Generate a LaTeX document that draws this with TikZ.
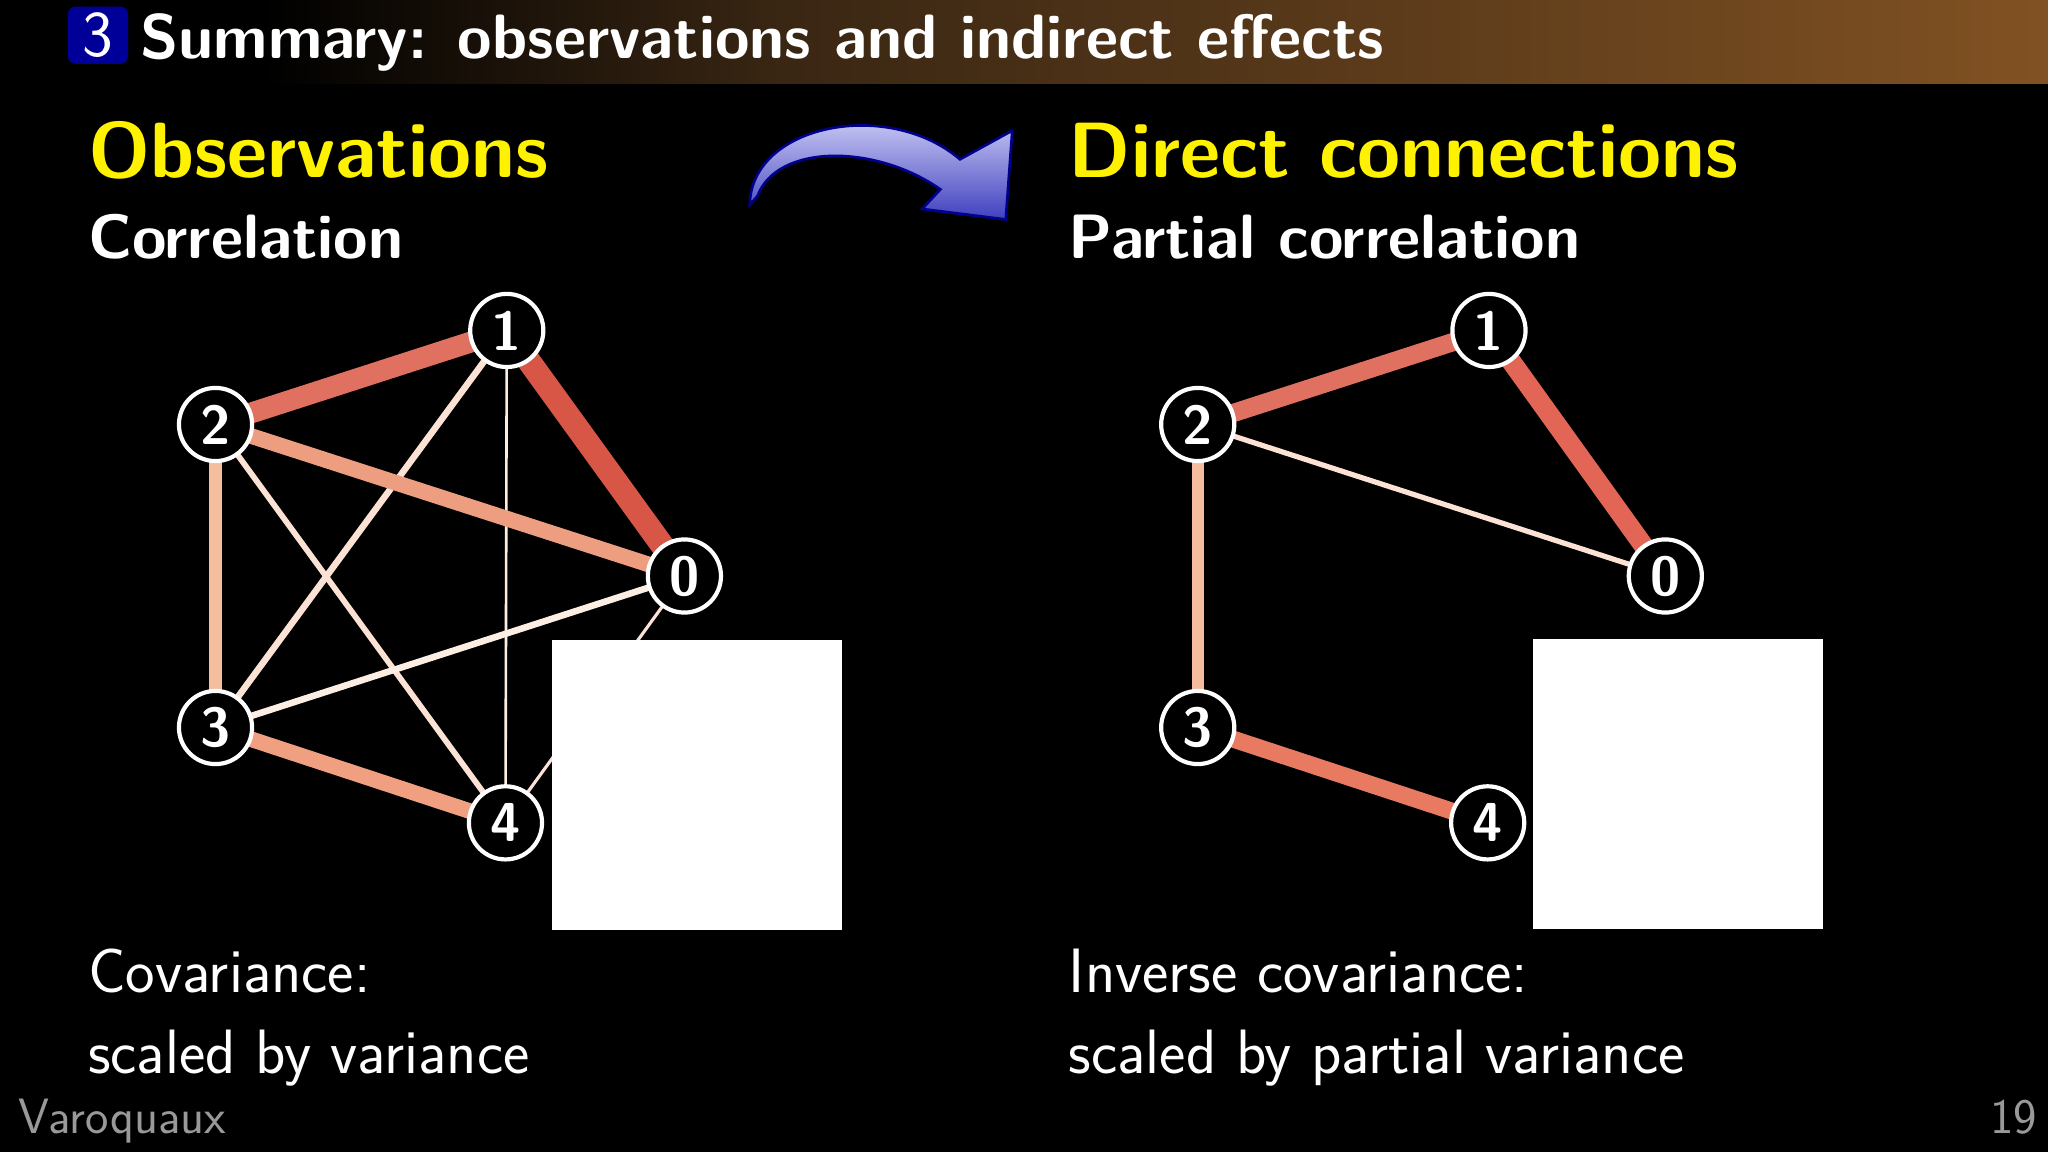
\documentclass[tikz,border=0pt]{standalone}
\usepackage{fontspec}
\begin{document}
\begin{tikzpicture}[x=0.5pt,y=-0.5pt,
  gn/.style={circle,draw=white,line width=1.6pt,fill=black,minimum size=28pt,inner sep=0pt,text=white,font=\sffamily\bfseries\fontsize{21}{21}\selectfont},
  ed/.style={line cap=butt},
  hd/.style={anchor=base west,text=yellow,font=\sffamily\bfseries\fontsize{30}{30}\selectfont,inner sep=0pt},
  sh/.style={anchor=base west,text=white,font=\sffamily\bfseries\fontsize{24}{24}\selectfont,inner sep=0pt},
  bt/.style={anchor=base west,text=white,font=\sffamily\fontsize{24}{24}\selectfont,inner sep=0pt}]
\fill[black] (0,0) rectangle (1568,882);
\useasboundingbox (0,0) rectangle (1568,882);
\shade[left color=black,right color=black!45!brown!80!orange] (0,0) rectangle (1568,64);
\shade[left color=black, right color=black] (0,0) rectangle (200,64);
\shade[left color=black,right color=black!70!brown] (200,0) rectangle (600,64);
\shade[left color=black!70!brown,right color=black!40!brown!90!orange] (600,0) rectangle (1568,64);
\node[fill=blue!60!black,rounded corners=3pt,minimum width=23pt,minimum height=22pt,inner sep=0pt,text=white,font=\sffamily\fontsize{25}{25}\selectfont] (num) at (75,27) {3};
\node[anchor=base west,text=white,font=\sffamily\bfseries\fontsize{24}{24}\selectfont,inner sep=0pt] (title) at (107,45) {Summary: observations and indirect effects};
% arrow
\shade[top color=blue!10!white,bottom color=blue!50!gray,draw=blue!55!black,line width=1pt]
 (574,157) .. controls (575,95) and (680,75) .. (735,122) -- (775,100) -- (770,168) -- (706,160) -- (720,145)
 .. controls (670,110) and (595,110) .. (580,150) -- cycle;
\node[hd] (h1) at (67,136) {Observations};
\node[sh] (s1) at (67,198) {Correlation};
\node[hd] (h2) at (818,136) {Direct connections};
\node[sh] (s2) at (818,198) {Partial correlation};
\node[bt] (b1) at (67,760) {Covariance:};
\node[bt] (b2) at (67,822) {scaled by variance};
\node[bt] (b3) at (818,760) {Inverse covariance:};
\node[bt] (b4) at (818,822) {scaled by partial variance};
\node[anchor=base west,text=gray!80,font=\sffamily\fontsize{19}{19}\selectfont,inner sep=0pt] (f1) at (14,868) {Varoquaux};
\node[anchor=base east,text=gray!80,font=\sffamily\fontsize{19}{19}\selectfont,inner sep=0pt] (f2) at (1560,868) {19};
% left graph
\coordinate (L1) at (388,253); \coordinate (L2) at (165,325); \coordinate (L0) at (524,441);
\coordinate (L3) at (165,557); \coordinate (L4) at (387,630);
\definecolor{c1}{HTML}{D85646}\definecolor{c2}{HTML}{E07060}\definecolor{c3}{HTML}{EE9E80}
\definecolor{c4}{HTML}{F5BC9E}\definecolor{c5}{HTML}{F0A080}\definecolor{c6}{HTML}{FBE2D4}
\definecolor{c7}{HTML}{FDEEE4}\definecolor{c8}{HTML}{E87A62}
\draw[ed,c6,line width=1.2pt] (L0) -- (L4);
\draw[ed,c7,line width=1.0pt] (L1) -- (L4);
\draw[ed,c6,line width=2.2pt] (L2) -- (L4);
\draw[ed,c6,line width=2.5pt] (L1) -- (L3);
\draw[ed,c7,line width=2.5pt] (L3) -- (L0);
\draw[ed,c4,line width=5pt] (L2) -- (L3);
\draw[ed,c5,line width=6pt] (L3) -- (L4);
\draw[ed,c3,line width=6pt] (L2) -- (L0);
\draw[ed,c2,line width=8pt] (L2) -- (L1);
\draw[ed,c1,line width=9pt] (L1) -- (L0);
\fill[white] (423,490) rectangle (645,712);
\node[gn] (n1) at (L1) {1}; \node[gn] (n2) at (L2) {2}; \node[gn] (n0) at (L0) {0};
\node[gn] (n3) at (L3) {3}; \node[gn] (n4) at (L4) {4};
% right graph
\coordinate (R1) at (1140,253); \coordinate (R2) at (917,325); \coordinate (R0) at (1275,441);
\coordinate (R3) at (917,557); \coordinate (R4) at (1139,630);
\draw[ed,c6,line width=2pt] (R2) -- (R0);
\draw[ed,c4,line width=4.5pt] (R2) -- (R3);
\draw[ed,c8,line width=6.5pt] (R3) -- (R4);
\draw[ed,c2,line width=7pt] (R2) -- (R1);
\draw[ed,c2!90!red,line width=7.5pt] (R1) -- (R0);
\fill[white] (1174,489) rectangle (1396,711);
\node[gn] (m1) at (R1) {1}; \node[gn] (m2) at (R2) {2}; \node[gn] (m0) at (R0) {0};
\node[gn] (m3) at (R3) {3}; \node[gn] (m4) at (R4) {4};
\end{tikzpicture}
\end{document}
